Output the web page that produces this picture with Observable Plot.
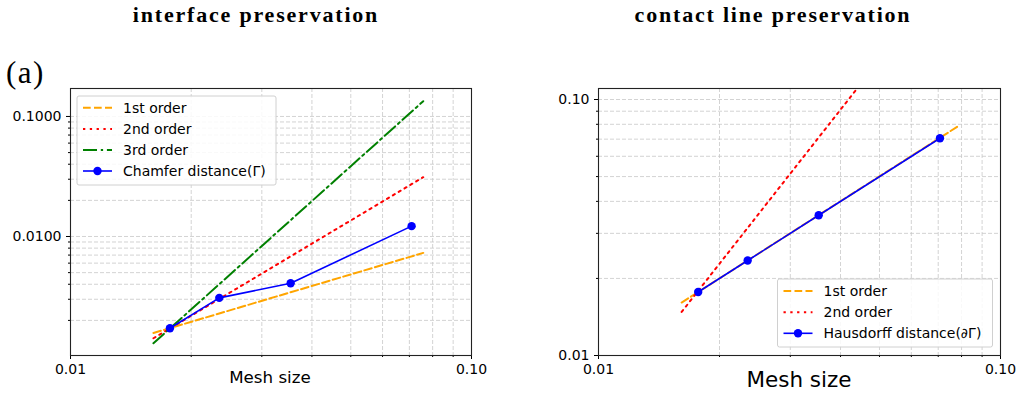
<!DOCTYPE html>
<html><head><meta charset="utf-8">
<script src="https://cdn.jsdelivr.net/npm/d3@7"></script>
<script src="https://cdn.jsdelivr.net/npm/@observablehq/plot@0.6"></script>
<style>
html,body{margin:0;padding:0;background:#fff;}
#wrap{position:relative;width:1018px;height:394px;overflow:hidden;}
#wrap svg{position:absolute;top:0;}
</style></head><body><div id="wrap"></div>
<script>
// ---- data ----
const meshSize = [0.0177, 0.0235, 0.0354, 0.0709];
const chamferDistance = [0.00172, 0.00308, 0.00408, 0.0122];
const hausdorffMesh = [0.0177, 0.0235, 0.0353, 0.0707];
const hausdorffDistance = [0.0177, 0.0235, 0.0353, 0.0706];

// reference slopes, left panel (end points)
const refXLeft = [0.0161, 0.0758];
const firstOrderLeft = [0.00157, 0.0073];
const secondOrderLeft = [0.00142, 0.0312];
const thirdOrderLeft = [0.00129, 0.134];

// reference slopes, right panel (end points)
const refXRight = [0.0161, 0.0787];
const firstOrderRight = [0.0161, 0.0789];
const secondOrderRight = [0.0148, 0.353];

// ticks
const xMajor = [0.01, 0.1];
const xMinor = [0.02, 0.03, 0.04, 0.05, 0.06, 0.07, 0.08, 0.09];
const yMajorLeft = [0.01, 0.1];
const yMinorLeft = [0.002, 0.003, 0.004, 0.005, 0.006, 0.007, 0.008, 0.009,
                    0.02, 0.03, 0.04, 0.05, 0.06, 0.07, 0.08, 0.09];
const yMajorRight = [0.01, 0.1];
const yMinorRight = [0.02, 0.03, 0.04, 0.05, 0.06, 0.07, 0.08, 0.09];

const titles = ["interface preservation", "contact line preservation"];
const legendLeft = ["1st order", "2nd order", "3rd order", "Chamfer distance(Γ)"];
const legendRight = ["1st order", "2nd order", "Hausdorff distance(∂Γ)"];

// ---- styles ----
const C1 = "orange", C2 = "red", C3 = "green", CB = "blue";
const D1 = "7.7,3.3", D2 = "2.3,4.5", D3 = "14,3.8,2.3,3.8";
const gridStyle = {stroke: "#c8c8c8", strokeOpacity: 1, strokeWidth: 0.8, strokeDasharray: "4,2"};

const rows = (xs, ys) => xs.map((x, i) => ({x, y: ys[i]}));

function panel({yDomain, yMajor, yMinor, yFmt, series, points, ml, mr, mt, mb, w}) {
  return Plot.plot({
    width: w, height: 394,
    marginLeft: ml, marginRight: mr, marginTop: mt, marginBottom: mb,
    style: {fontFamily: "DejaVu Sans, sans-serif", fontSize: "14px", color: "black", background: "transparent"},
    x: {type: "log", domain: [0.01, 0.1]},
    y: {type: "log", domain: yDomain},
    marks: [
      Plot.gridX(xMajor.concat(xMinor), gridStyle),
      Plot.gridY(yMajor.concat(yMinor), gridStyle),
      ...series.map(s => Plot.line(rows(s.x, s.y), {x: "x", y: "y", stroke: s.c, strokeWidth: 2, strokeDasharray: s.d, clip: true})),
      Plot.line(points, {x: "x", y: "y", stroke: CB, strokeWidth: 1.6}),
      Plot.dot(points, {x: "x", y: "y", r: 4.2, fill: CB, stroke: "none"}),
      Plot.axisX(xMajor, {tickFormat: d3.format(".2f"), tickSize: 4, tickPadding: 5, label: null, fontSize: 14}),
      Plot.axisX(xMinor, {tickFormat: () => "", tickSize: 2, label: null}),
      Plot.axisY(yMajor, {tickFormat: d3.format(yFmt), tickSize: 4, tickPadding: 5, label: null, fontSize: 14}),
      Plot.axisY(yMinor, {tickFormat: () => "", tickSize: 2, label: null}),
      Plot.frame({stroke: "#222", strokeWidth: 1.1})
    ]
  });
}

const left = panel({
  w: 509, ml: 70, mr: 38, mt: 88, mb: 39,
  yDomain: [0.00102, 0.171], yMajor: yMajorLeft, yMinor: yMinorLeft, yFmt: ".4f",
  series: [
    {x: refXLeft, y: firstOrderLeft, c: C1, d: D1},
    {x: refXLeft, y: secondOrderLeft, c: C2, d: D2},
    {x: refXLeft, y: thirdOrderLeft, c: C3, d: D3}
  ],
  points: rows(meshSize, chamferDistance)
});
left.style.left = "0px";

const right = panel({
  w: 509, ml: 89, mr: 18, mt: 88, mb: 39,
  yDomain: [0.01, 0.1104], yMajor: yMajorRight, yMinor: yMinorRight, yFmt: ".2f",
  series: [
    {x: refXRight, y: firstOrderRight, c: C1, d: D1},
    {x: refXRight, y: secondOrderRight, c: C2, d: D2}
  ],
  points: rows(hausdorffMesh, hausdorffDistance)
});
right.style.left = "509px";

const wrap = document.getElementById("wrap");
wrap.appendChild(left);
wrap.appendChild(right);

// ---- overlay text: titles, panel tag, axis labels, legends ----
const NS = "http://www.w3.org/2000/svg";
const ov = document.createElementNS(NS, "svg");
ov.setAttribute("width", 1018); ov.setAttribute("height", 394);
ov.style.left = "0px"; ov.style.pointerEvents = "none";
function el(tag, attrs, text) {
  const e = document.createElementNS(NS, tag);
  for (const k in attrs) e.setAttribute(k, attrs[k]);
  if (text != null) e.textContent = text;
  ov.appendChild(e);
  return e;
}
const serif = "Liberation Serif, serif";
el("text", {x: 256, y: 22, "text-anchor": "middle", "font-family": serif, "font-weight": "bold", "font-size": 22, "letter-spacing": 1.8}, titles[0]);
el("text", {x: 773, y: 22, "text-anchor": "middle", "font-family": serif, "font-weight": "bold", "font-size": 22, "letter-spacing": 1.8}, titles[1]);
el("text", {x: 6, y: 83, "font-family": serif, "font-size": 31, "letter-spacing": 1.5}, "(a)");
el("text", {x: 270, y: 383, "text-anchor": "middle", "font-family": "DejaVu Sans", "font-size": 16.7}, "Mesh size");
el("text", {x: 799, y: 387, "text-anchor": "middle", "font-family": "DejaVu Sans", "font-size": 21.5}, "Mesh size");

function legend(x0, y0, w, h, rowY, labels, styles) {
  el("rect", {x: x0, y: y0, width: w, height: h, rx: 2, fill: "white", "fill-opacity": 0.85, stroke: "#d0d0d0", "stroke-width": 1});
  labels.forEach((lab, i) => {
    const s = styles[i], y = rowY[i];
    el("line", {x1: x0 + 6, x2: x0 + 35, y1: y, y2: y, stroke: s.c, "stroke-width": s.lw, "stroke-dasharray": s.d || "none"});
    if (s.dot) el("circle", {cx: x0 + 20.5, cy: y, r: 4.2, fill: CB});
    el("text", {x: x0 + 46, y: y + 5, "font-family": "DejaVu Sans", "font-size": 14, fill: "black"}, lab);
  });
}
legend(77, 96, 199, 89, [107.7, 129, 150, 171], legendLeft,
  [{c: C1, d: D1, lw: 2}, {c: C2, d: D2, lw: 2}, {c: C3, d: D3, lw: 2}, {c: CB, lw: 1.6, dot: true}]);
legend(777.5, 279, 215, 68, [291, 312.3, 333.3], legendRight,
  [{c: C1, d: D1, lw: 2}, {c: C2, d: D2, lw: 2}, {c: CB, lw: 1.6, dot: true}]);

wrap.appendChild(ov);
</script></body></html>
